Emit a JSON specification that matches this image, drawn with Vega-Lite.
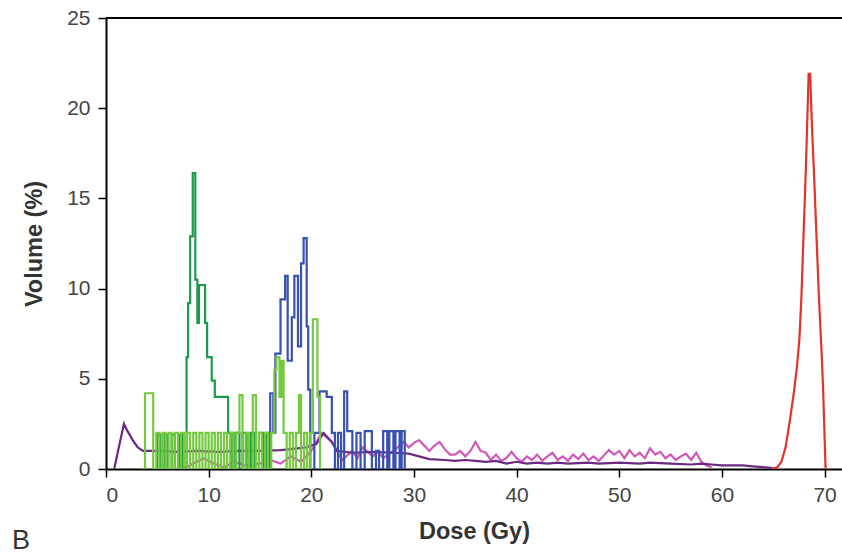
{
  "$schema": "https://vega.github.io/schema/vega-lite/v6.json",
  "autosize": {"type": "none"},
  "width": 736,
  "height": 451,
  "padding": {"left": 106, "top": 18, "right": 0, "bottom": 90},
  "background": "white",
  "config": {
    "view": {"stroke": null},
    "axis": {
      "grid": false,
      "domainColor": "black",
      "domainWidth": 2,
      "tickColor": "black",
      "tickWidth": 1.5,
      "tickSize": 8,
      "labelFont": "Liberation Sans",
      "labelFontSize": 21,
      "labelColor": "#444",
      "titleFont": "Liberation Sans",
      "titleFontSize": 23.5,
      "titleFontWeight": "bold",
      "titleColor": "#333"
    }
  },
  "title": {
    "text": "B",
    "orient": "bottom",
    "anchor": "start",
    "frame": "group",
    "dx": -94,
    "offset": -15,
    "font": "Liberation Sans",
    "fontSize": 27,
    "fontWeight": "normal",
    "color": "#333"
  },
  "data": {"values": [
    {"series":"pink","dose":7.5,"volume":0},{"series":"pink","dose":8.5,"volume":0.3},{"series":"pink","dose":9.5,"volume":0.6},{"series":"pink","dose":10.5,"volume":0.3},{"series":"pink","dose":11.5,"volume":0.1},{"series":"pink","dose":12.5,"volume":0.4},{"series":"pink","dose":13.5,"volume":0.2},{"series":"pink","dose":15,"volume":0.3},{"series":"pink","dose":16,"volume":0.5},{"series":"pink","dose":17,"volume":0.3},{"series":"pink","dose":18,"volume":0.7},{"series":"pink","dose":19,"volume":0.4},{"series":"pink","dose":20,"volume":1.0},{"series":"pink","dose":21,"volume":2.0},{"series":"pink","dose":22,"volume":1.5},{"series":"pink","dose":22.5,"volume":1.0},{"series":"pink","dose":23,"volume":0.5},{"series":"pink","dose":24,"volume":1.0},{"series":"pink","dose":24.5,"volume":0.6},{"series":"pink","dose":25,"volume":1.2},{"series":"pink","dose":26,"volume":0.7},{"series":"pink","dose":26.5,"volume":1.0},{"series":"pink","dose":27,"volume":0.6},{"series":"pink","dose":28,"volume":1.0},{"series":"pink","dose":29,"volume":1.5},{"series":"pink","dose":29.5,"volume":1.2},{"series":"pink","dose":30,"volume":1.45},{"series":"pink","dose":30.5,"volume":1.6},{"series":"pink","dose":31,"volume":1.3},{"series":"pink","dose":31.5,"volume":1.0},{"series":"pink","dose":32,"volume":1.3},{"series":"pink","dose":32.5,"volume":1.5},{"series":"pink","dose":33,"volume":1.1},{"series":"pink","dose":33.5,"volume":0.8},{"series":"pink","dose":34,"volume":0.8},{"series":"pink","dose":34.5,"volume":1.0},{"series":"pink","dose":35,"volume":0.7},{"series":"pink","dose":35.5,"volume":1.0},{"series":"pink","dose":36,"volume":1.5},{"series":"pink","dose":36.5,"volume":1.0},{"series":"pink","dose":37,"volume":0.9},{"series":"pink","dose":37.5,"volume":0.5},{"series":"pink","dose":38,"volume":0.8},{"series":"pink","dose":38.5,"volume":0.45},{"series":"pink","dose":39,"volume":0.6},{"series":"pink","dose":39.5,"volume":0.95},{"series":"pink","dose":40,"volume":0.6},{"series":"pink","dose":40.5,"volume":0.4},{"series":"pink","dose":41,"volume":0.7},{"series":"pink","dose":41.5,"volume":0.5},{"series":"pink","dose":42,"volume":0.8},{"series":"pink","dose":42.5,"volume":0.45},{"series":"pink","dose":43,"volume":0.7},{"series":"pink","dose":43.5,"volume":0.9},{"series":"pink","dose":44,"volume":0.5},{"series":"pink","dose":44.5,"volume":0.7},{"series":"pink","dose":45,"volume":0.45},{"series":"pink","dose":45.5,"volume":0.8},{"series":"pink","dose":46,"volume":0.55},{"series":"pink","dose":46.5,"volume":0.85},{"series":"pink","dose":47,"volume":0.5},{"series":"pink","dose":47.5,"volume":0.7},{"series":"pink","dose":48,"volume":0.45},{"series":"pink","dose":48.5,"volume":0.75},{"series":"pink","dose":49,"volume":1.05},{"series":"pink","dose":49.5,"volume":0.8},{"series":"pink","dose":50,"volume":1.0},{"series":"pink","dose":50.5,"volume":0.6},{"series":"pink","dose":51,"volume":1.05},{"series":"pink","dose":51.5,"volume":0.7},{"series":"pink","dose":52,"volume":0.9},{"series":"pink","dose":52.5,"volume":0.6},{"series":"pink","dose":53,"volume":1.15},{"series":"pink","dose":53.5,"volume":0.8},{"series":"pink","dose":54,"volume":0.95},{"series":"pink","dose":54.5,"volume":0.6},{"series":"pink","dose":55,"volume":0.8},{"series":"pink","dose":55.5,"volume":0.5},{"series":"pink","dose":56,"volume":0.7},{"series":"pink","dose":56.5,"volume":0.85},{"series":"pink","dose":57,"volume":0.5},{"series":"pink","dose":57.5,"volume":0.9},{"series":"pink","dose":58,"volume":0.4},{"series":"pink","dose":58.5,"volume":0.2},{"series":"pink","dose":59,"volume":0.1},

    {"series":"purple","dose":0.8,"volume":0},{"series":"purple","dose":1.1,"volume":0.8},{"series":"purple","dose":1.4,"volume":1.6},{"series":"purple","dose":1.75,"volume":2.5},{"series":"purple","dose":2.1,"volume":2.1},{"series":"purple","dose":2.6,"volume":1.6},{"series":"purple","dose":3.1,"volume":1.2},{"series":"purple","dose":3.6,"volume":1.0},{"series":"purple","dose":5,"volume":1.0},{"series":"purple","dose":7,"volume":0.95},{"series":"purple","dose":9,"volume":1.0},{"series":"purple","dose":11,"volume":0.95},{"series":"purple","dose":13,"volume":1.0},{"series":"purple","dose":15,"volume":1.0},{"series":"purple","dose":17,"volume":1.05},{"series":"purple","dose":18,"volume":1.1},{"series":"purple","dose":19.5,"volume":1.2},{"series":"purple","dose":20.5,"volume":1.4},{"series":"purple","dose":21.2,"volume":2.0},{"series":"purple","dose":22,"volume":1.5},{"series":"purple","dose":22.5,"volume":1.0},{"series":"purple","dose":24,"volume":0.9},{"series":"purple","dose":26,"volume":0.95},{"series":"purple","dose":28,"volume":0.9},{"series":"purple","dose":29.5,"volume":0.85},{"series":"purple","dose":30.5,"volume":0.7},{"series":"purple","dose":31.5,"volume":0.55},{"series":"purple","dose":33,"volume":0.5},{"series":"purple","dose":34,"volume":0.45},{"series":"purple","dose":35,"volume":0.5},{"series":"purple","dose":36,"volume":0.45},{"series":"purple","dose":37,"volume":0.4},{"series":"purple","dose":38,"volume":0.45},{"series":"purple","dose":39,"volume":0.3},{"series":"purple","dose":40,"volume":0.4},{"series":"purple","dose":41,"volume":0.3},{"series":"purple","dose":42,"volume":0.35},{"series":"purple","dose":43,"volume":0.3},{"series":"purple","dose":44,"volume":0.35},{"series":"purple","dose":45,"volume":0.3},{"series":"purple","dose":47,"volume":0.35},{"series":"purple","dose":48,"volume":0.3},{"series":"purple","dose":50,"volume":0.35},{"series":"purple","dose":52,"volume":0.3},{"series":"purple","dose":53,"volume":0.35},{"series":"purple","dose":55,"volume":0.3},{"series":"purple","dose":57,"volume":0.25},{"series":"purple","dose":58,"volume":0.3},{"series":"purple","dose":59,"volume":0.25},{"series":"purple","dose":60,"volume":0.2},{"series":"purple","dose":62,"volume":0.2},{"series":"purple","dose":63,"volume":0.15},{"series":"purple","dose":64,"volume":0.1},{"series":"purple","dose":65,"volume":0.05},

    {"series":"red","dose":64.8,"volume":0},{"series":"red","dose":65.4,"volume":0.1},{"series":"red","dose":65.8,"volume":0.4},{"series":"red","dose":66.2,"volume":1.2},{"series":"red","dose":66.6,"volume":2.6},{"series":"red","dose":67.0,"volume":4.2},{"series":"red","dose":67.3,"volume":5.6},{"series":"red","dose":67.55,"volume":7.2},{"series":"red","dose":67.75,"volume":9.6},{"series":"red","dose":67.95,"volume":12.9},{"series":"red","dose":68.2,"volume":17.0},{"series":"red","dose":68.45,"volume":21.9},{"series":"red","dose":68.6,"volume":21.9},{"series":"red","dose":68.75,"volume":19.3},{"series":"red","dose":69.0,"volume":16.0},{"series":"red","dose":69.2,"volume":13.1},{"series":"red","dose":69.45,"volume":9.55},{"series":"red","dose":69.7,"volume":6.6},{"series":"red","dose":69.85,"volume":4.6},{"series":"red","dose":70.1,"volume":0},

    {"series":"dkgreen","dose":4.6,"volume":0},{"series":"dkgreen","dose":5.0,"volume":1.9},{"series":"dkgreen","dose":5.3,"volume":0},{"series":"dkgreen","dose":5.7,"volume":1.9},{"series":"dkgreen","dose":6.0,"volume":0},{"series":"dkgreen","dose":6.4,"volume":1.9},{"series":"dkgreen","dose":6.7,"volume":0},{"series":"dkgreen","dose":7.1,"volume":1.9},{"series":"dkgreen","dose":7.5,"volume":0},{"series":"dkgreen","dose":7.85,"volume":6.2},{"series":"dkgreen","dose":8.0,"volume":9.2},{"series":"dkgreen","dose":8.2,"volume":12.9},{"series":"dkgreen","dose":8.45,"volume":16.4},{"series":"dkgreen","dose":8.7,"volume":10.5},{"series":"dkgreen","dose":8.9,"volume":8.1},{"series":"dkgreen","dose":9.05,"volume":10.2},{"series":"dkgreen","dose":9.65,"volume":8.1},{"series":"dkgreen","dose":9.85,"volume":6.2},{"series":"dkgreen","dose":10.3,"volume":4.9},{"series":"dkgreen","dose":10.6,"volume":4.0},{"series":"dkgreen","dose":11.9,"volume":2.0},{"series":"dkgreen","dose":12.3,"volume":0},{"series":"dkgreen","dose":12.6,"volume":2.0},{"series":"dkgreen","dose":13.0,"volume":0},{"series":"dkgreen","dose":13.3,"volume":2.0},{"series":"dkgreen","dose":13.7,"volume":0},{"series":"dkgreen","dose":14.1,"volume":2.0},{"series":"dkgreen","dose":14.5,"volume":0},{"series":"dkgreen","dose":14.9,"volume":2.0},{"series":"dkgreen","dose":15.3,"volume":0},{"series":"dkgreen","dose":15.6,"volume":2.0},{"series":"dkgreen","dose":16.0,"volume":0},{"series":"dkgreen","dose":16.3,"volume":0},

    {"series":"blue","dose":15.7,"volume":0},{"series":"blue","dose":16.0,"volume":4.2},{"series":"blue","dose":16.3,"volume":2.0},{"series":"blue","dose":16.5,"volume":6.4},{"series":"blue","dose":17.0,"volume":9.4},{"series":"blue","dose":17.45,"volume":10.7},{"series":"blue","dose":17.7,"volume":6.0},{"series":"blue","dose":18.1,"volume":8.4},{"series":"blue","dose":18.35,"volume":10.7},{"series":"blue","dose":18.7,"volume":6.8},{"series":"blue","dose":19.0,"volume":11.4},{"series":"blue","dose":19.25,"volume":12.8},{"series":"blue","dose":19.55,"volume":7.9},{"series":"blue","dose":19.7,"volume":4.4},{"series":"blue","dose":19.9,"volume":0},{"series":"blue","dose":20.3,"volume":2.0},{"series":"blue","dose":20.8,"volume":4.3},{"series":"blue","dose":21.5,"volume":4.0},{"series":"blue","dose":22.0,"volume":2.0},{"series":"blue","dose":22.3,"volume":0},{"series":"blue","dose":22.6,"volume":2.0},{"series":"blue","dose":22.9,"volume":0},{"series":"blue","dose":23.2,"volume":4.3},{"series":"blue","dose":23.5,"volume":2.1},{"series":"blue","dose":24.0,"volume":0},{"series":"blue","dose":24.4,"volume":2.0},{"series":"blue","dose":24.8,"volume":0},{"series":"blue","dose":25.2,"volume":2.1},{"series":"blue","dose":25.9,"volume":0},{"series":"blue","dose":26.3,"volume":1.0},{"series":"blue","dose":26.6,"volume":0},{"series":"blue","dose":27.0,"volume":2.1},{"series":"blue","dose":27.4,"volume":0},{"series":"blue","dose":27.6,"volume":2.1},{"series":"blue","dose":28.0,"volume":0},{"series":"blue","dose":28.2,"volume":2.1},{"series":"blue","dose":28.6,"volume":0},{"series":"blue","dose":28.8,"volume":2.1},{"series":"blue","dose":29.1,"volume":0},

    {"series":"ltgreen","dose":3.5,"volume":0},{"series":"ltgreen","dose":3.8,"volume":4.2},{"series":"ltgreen","dose":4.6,"volume":0},{"series":"ltgreen","dose":4.9,"volume":2.0},{"series":"ltgreen","dose":5.2,"volume":0},{"series":"ltgreen","dose":5.5,"volume":2.0},{"series":"ltgreen","dose":5.8,"volume":0},{"series":"ltgreen","dose":6.1,"volume":2.0},{"series":"ltgreen","dose":6.4,"volume":0},{"series":"ltgreen","dose":6.7,"volume":2.0},{"series":"ltgreen","dose":7.0,"volume":0},{"series":"ltgreen","dose":7.3,"volume":2.0},{"series":"ltgreen","dose":7.6,"volume":0},{"series":"ltgreen","dose":7.9,"volume":2.0},{"series":"ltgreen","dose":8.2,"volume":0},{"series":"ltgreen","dose":8.5,"volume":2.0},{"series":"ltgreen","dose":8.8,"volume":0},{"series":"ltgreen","dose":9.1,"volume":2.0},{"series":"ltgreen","dose":9.4,"volume":0},{"series":"ltgreen","dose":9.7,"volume":2.0},{"series":"ltgreen","dose":10.0,"volume":0},{"series":"ltgreen","dose":10.3,"volume":2.0},{"series":"ltgreen","dose":10.6,"volume":0},{"series":"ltgreen","dose":10.9,"volume":2.0},{"series":"ltgreen","dose":11.2,"volume":0},{"series":"ltgreen","dose":11.5,"volume":2.0},{"series":"ltgreen","dose":11.8,"volume":0},{"series":"ltgreen","dose":12.1,"volume":2.0},{"series":"ltgreen","dose":12.4,"volume":0},{"series":"ltgreen","dose":12.7,"volume":2.0},{"series":"ltgreen","dose":13.0,"volume":4.1},{"series":"ltgreen","dose":13.3,"volume":0},{"series":"ltgreen","dose":13.6,"volume":2.0},{"series":"ltgreen","dose":13.9,"volume":0},{"series":"ltgreen","dose":14.3,"volume":4.1},{"series":"ltgreen","dose":14.6,"volume":0},{"series":"ltgreen","dose":14.9,"volume":2.0},{"series":"ltgreen","dose":15.2,"volume":0},{"series":"ltgreen","dose":15.5,"volume":2.0},{"series":"ltgreen","dose":15.8,"volume":0},{"series":"ltgreen","dose":16.1,"volume":2.0},{"series":"ltgreen","dose":16.4,"volume":5.5},{"series":"ltgreen","dose":16.6,"volume":6.2},{"series":"ltgreen","dose":16.9,"volume":4.0},{"series":"ltgreen","dose":17.1,"volume":6.0},{"series":"ltgreen","dose":17.3,"volume":2.0},{"series":"ltgreen","dose":17.6,"volume":0},{"series":"ltgreen","dose":17.9,"volume":2.0},{"series":"ltgreen","dose":18.2,"volume":0},{"series":"ltgreen","dose":18.5,"volume":2.0},{"series":"ltgreen","dose":18.8,"volume":4.1},{"series":"ltgreen","dose":19.0,"volume":0},{"series":"ltgreen","dose":19.3,"volume":2.0},{"series":"ltgreen","dose":19.6,"volume":0},{"series":"ltgreen","dose":19.9,"volume":2.0},{"series":"ltgreen","dose":20.15,"volume":8.3},{"series":"ltgreen","dose":20.6,"volume":4.0},{"series":"ltgreen","dose":20.85,"volume":0},{"series":"ltgreen","dose":21.0,"volume":0}
  ]},
  "layer": [
    {
      "transform": [{"filter": "datum.series === 'pink' || datum.series === 'purple' || datum.series === 'red'"}],
      "mark": {"type": "line", "strokeWidth": 2.2, "clip": true},
      "encoding": {
        "x": {"field": "dose", "type": "quantitative", "scale": {"domain": [0, 71.7], "nice": false, "zero": false},
              "axis": {"title": "Dose (Gy)", "values": [0,10,20,30,40,50,60,70], "labelPadding": 7, "titlePadding": 14}},
        "y": {"field": "volume", "type": "quantitative", "scale": {"domain": [0, 25], "nice": false},
              "axis": {"title": "Volume (%)", "values": [0,5,10,15,20,25], "labelPadding": 8, "titlePadding": 20}},
        "color": {"field": "series", "type": "nominal", "legend": null,
                  "scale": {"domain": ["pink","purple","red","dkgreen","blue","ltgreen"],
                            "range": ["#cf58b8","#6c2a82","#e53228","#1e9a48","#3850b0","#74c93e"]}},
        "order": {"field": "dose", "type": "quantitative"}
      }
    },
    {
      "transform": [{"filter": "datum.series === 'dkgreen'"}],
      "mark": {"type": "line", "strokeWidth": 2.2, "interpolate": "step-after", "clip": true},
      "encoding": {
        "x": {"field": "dose", "type": "quantitative"},
        "y": {"field": "volume", "type": "quantitative"},
        "color": {"field": "series", "type": "nominal", "legend": null}
      }
    },
    {
      "transform": [{"filter": "datum.series === 'blue'"}],
      "mark": {"type": "line", "strokeWidth": 2.2, "interpolate": "step-after", "clip": true},
      "encoding": {
        "x": {"field": "dose", "type": "quantitative"},
        "y": {"field": "volume", "type": "quantitative"},
        "color": {"field": "series", "type": "nominal", "legend": null}
      }
    },
    {
      "transform": [{"filter": "datum.series === 'ltgreen'"}],
      "mark": {"type": "line", "strokeWidth": 2.2, "interpolate": "step-after", "clip": true},
      "encoding": {
        "x": {"field": "dose", "type": "quantitative"},
        "y": {"field": "volume", "type": "quantitative"},
        "color": {"field": "series", "type": "nominal", "legend": null}
      }
    },
    {
      "data": {"values": [{}]},
      "mark": {"type": "rule", "color": "black", "strokeWidth": 2},
      "encoding": {"y": {"datum": 25}}
    }
  ]
}
